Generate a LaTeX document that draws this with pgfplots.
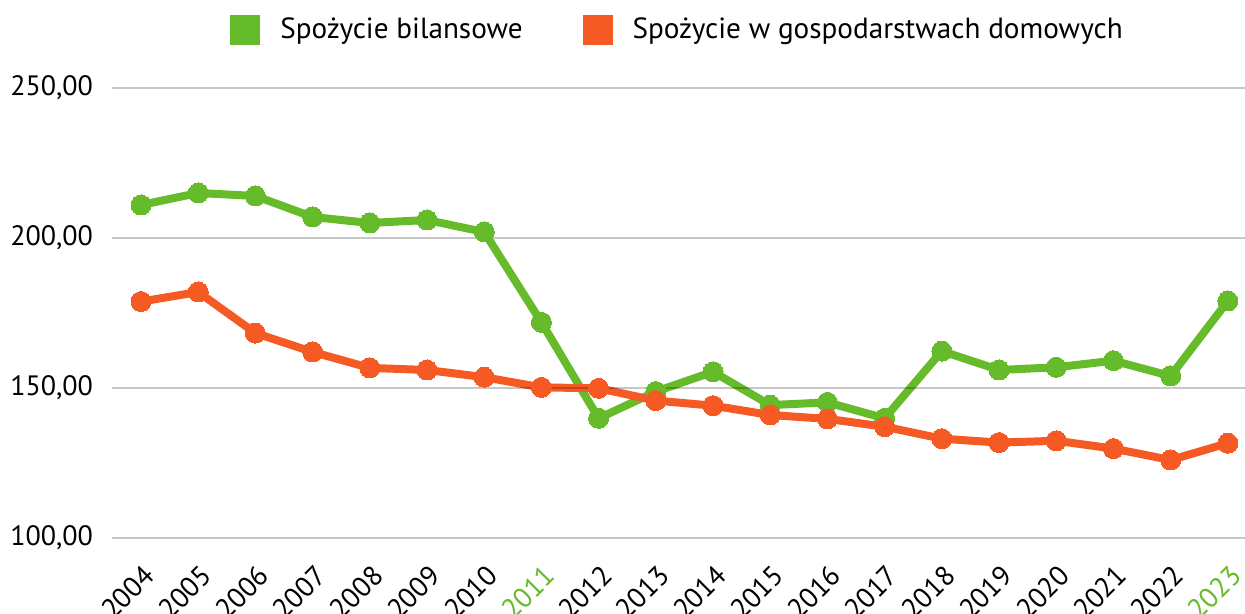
\documentclass[border=0pt]{standalone}
\usepackage{pgfplots}
\pgfplotsset{compat=1.18}
\usepackage{fontspec}
\setmainfont{PT Sans}
\definecolor{cgreen}{HTML}{66BB2A}
\definecolor{corange}{HTML}{F55A24}
\begin{document}
\begin{tikzpicture}
\begin{axis}[
  name=ax,
  scale only axis,
  width=566.5pt, height=225pt,
  xmin=2003.493, xmax=2023.30,
  ymin=100, ymax=250,
  axis line style={draw=none},
  axis on top,
  ytick={100,150,200,250},
  ymajorgrids,
  major grid style={black, opacity=0.22, line width=1pt},
  major tick length=0pt,
  xtick={2004,...,2023},
  xticklabels={2004,2005,2006,2007,2008,2009,2010,\textcolor{cgreen}{2011},2012,2013,2014,2015,2016,2017,2018,2019,2020,2021,2022,\textcolor{cgreen}{2023}},
  x tick label style={rotate=45, anchor=north east, font=\fontsize{14}{16}\selectfont, inner sep=1pt, xshift=-7.5pt, yshift=-8.3pt},
  y tick label style={font=\fontsize{14}{16}\selectfont, xshift=-6pt},
  yticklabel style={/pgf/number format/.cd, fixed, fixed zerofill, precision=2, use comma, assume math mode=true},
  legend style={at={(0.5,1)}, anchor=center, yshift=29pt, draw=none, legend columns=2, font=\fontsize{14.6}{16}\selectfont,
    /tikz/every odd column/.append style={column sep=8pt},
    /tikz/every even column/.append style={column sep=28pt}},
  legend image code/.code={\fill[#1, draw=none] (0pt,-7.5pt) rectangle (15pt,7.5pt);},
  legend cell align=left,
]
\addplot[cgreen, line width=4pt, mark=*, mark size=5pt, mark options={fill=cgreen, draw=cgreen, line width=0pt}] coordinates {
(2004,211) (2005,215) (2006,214) (2007,207) (2008,205) (2009,206) (2010,202)
(2011,171.9) (2012,139.9) (2013,148.8) (2014,155.4) (2015,144.3) (2016,145.2)
(2017,139.9) (2018,162.3) (2019,156) (2020,156.9) (2021,159.1) (2022,154) (2023,179)
};
\addlegendentry{Spożycie bilansowe}
\addplot[corange, line width=4pt, mark=*, mark size=5pt, mark options={fill=corange, draw=corange, line width=0pt}] coordinates {
(2004,178.8) (2005,182) (2006,168.3) (2007,162) (2008,156.7) (2009,156) (2010,153.6)
(2011,150.2) (2012,149.9) (2013,145.8) (2014,144.1) (2015,141) (2016,139.7)
(2017,137.1) (2018,133.1) (2019,131.8) (2020,132.4) (2021,129.8) (2022,126) (2023,131.6)
};
\addlegendentry{Spożycie w gospodarstwach domowych}
\end{axis}
\pgfresetboundingbox
\path ([xshift=-56pt,yshift=-38pt]ax.south west) rectangle ([xshift=0pt,yshift=44pt]ax.north east);
\end{tikzpicture}
\end{document}
